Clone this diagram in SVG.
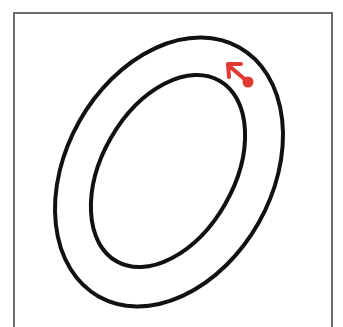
<svg xmlns="http://www.w3.org/2000/svg" width="343" height="327" viewBox="0 0 343 327">
<style>
.ring{fill:none;stroke:#111;stroke-width:4}
.red{stroke:#e03a32;stroke-width:4;fill:none;stroke-linecap:round;stroke-linejoin:round}
</style>
<rect width="343" height="327" fill="#fff"/>
<path d="M14,327 V13 H332 V327" fill="none" stroke="#6e6e6e" stroke-width="2"/>
<g id="outer"><ellipse class="ring" cx="169" cy="172" rx="103" ry="143" transform="rotate(29.5 169 172)"/></g>
<g id="inner"><ellipse class="ring" cx="168" cy="171" rx="66" ry="104" transform="rotate(29.7 168 171)"/></g>
<g id="arrow">
<path class="red" d="M248,82 L228,65 M241,64 L228,64 L229,77"/>
<circle cx="248" cy="82" r="5.5" fill="#e03a32"/>
</g>
</svg>
